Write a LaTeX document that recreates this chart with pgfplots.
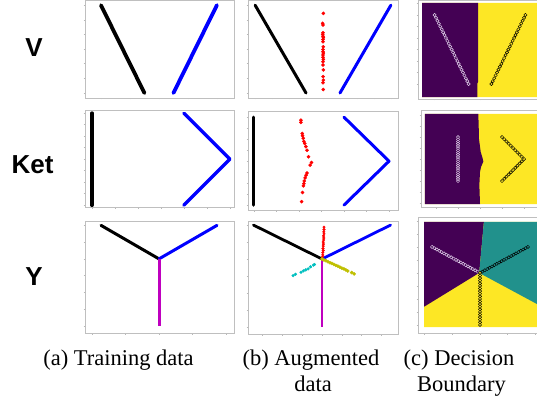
\documentclass[border=0pt]{standalone}
\usepackage{fontspec}
\setmainfont{Liberation Serif}
\newfontfamily\labfont{Liberation Sans}
\usepackage{pgfplots}
\usepackage{pgfplotstable}
\pgfplotsset{compat=1.18}
\definecolor{vpurple}{HTML}{440154}
\definecolor{vteal}{HTML}{21918C}
\definecolor{vyellow}{HTML}{FDE725}
\definecolor{mmag}{rgb}{0.75,0,0.75}
\definecolor{mcyan}{rgb}{0,0.75,0.75}
\definecolor{molive}{rgb}{0.75,0.75,0}
\definecolor{framegray}{HTML}{BFBFBF}
\definecolor{lav}{HTML}{E4D6EE}

\pgfplotstableread{
x y
-2 3
-1.9375 2.875
-1.875 2.75
-1.8125 2.625
-1.75 2.5
-1.6875 2.375
-1.625 2.25
-1.5625 2.125
-1.5 2.0
-1.4375 1.875
-1.375 1.75
-1.3125 1.625
-1.25 1.5
-1.1875 1.375
-1.125 1.25
-1.0625 1.125
-1.0 1.0
-0.9375 0.875
-0.875 0.75
-0.8125 0.625
-0.75 0.5
-0.6875 0.375
-0.625 0.25
-0.5625 0.125
-0.5 0
}\Vzero
\pgfplotstableread{
x y
0.5 0
0.5625 0.125
0.625 0.25
0.6875 0.375
0.75 0.5
0.8125 0.625
0.875 0.75
0.9375 0.875
1.0 1.0
1.0625 1.125
1.125 1.25
1.1875 1.375
1.25 1.5
1.3125 1.625
1.375 1.75
1.4375 1.875
1.5 2.0
1.5625 2.125
1.625 2.25
1.6875 2.375
1.75 2.5
1.8125 2.625
1.875 2.75
1.9375 2.875
2.0 3.0
}\Vone
\pgfplotstableread{
x y
0.01 2.72
-0.01 2.38
0.0 2.32
0.0 2.06
-0.01 2.0
0.0 1.94
0.01 1.89
0.0 1.83
0.0 1.75
0.01 1.58
0.0 1.49
0.0 1.41
0.01 1.36
0.0 1.30
0.0 1.22
0.01 1.15
0.0 1.07
0.0 0.96
0.01 0.79
0.0 0.56
0.01 0.44
0.0 0.35
0.01 0.12
}\Vaug
\pgfplotstableread{
x y
-1 -1
-1 -0.9
-1 -0.8
-1 -0.7
-1 -0.6
-1 -0.5
-1 -0.4
-1 -0.3
-1 -0.2
-1 -0.1
-1 0
-1 0.1
-1 0.2
-1 0.3
-1 0.4
-1 0.5
-1 0.6
-1 0.7
-1 0.8
-1 0.9
-1 1
}\Kzero
\pgfplotstableread{
x y
1 1
1.1 0.9
1.2 0.8
1.3 0.7
1.4 0.6
1.5 0.5
1.6 0.4
1.7 0.3
1.8 0.2
1.9 0.1
2 0
1.9 -0.1
1.8 -0.2
1.7 -0.3
1.6 -0.4
1.5 -0.5
1.4 -0.6
1.3 -0.7
1.2 -0.8
1.1 -0.9
1 -1
}\Kone
\pgfplotstableread{
x y
0.044 0.93
0.044 0.88
0.074 0.63
0.08 0.58
0.096 0.52
0.11 0.45
0.13 0.40
0.156 0.33
0.18 0.25
0.215 0.10
0.28 -0.03
0.25 -0.09
0.18 -0.27
0.16 -0.32
0.14 -0.38
0.12 -0.45
0.11 -0.51
0.10 -0.56
0.08 -0.71
0.06 -0.92
}\Kaug
\pgfplotstableread{
x y
-1.732 1
-1.645 0.95
-1.559 0.9
-1.472 0.85
-1.386 0.8
-1.299 0.75
-1.212 0.7
-1.126 0.65
-1.039 0.6
-0.953 0.55
-0.866 0.5
-0.779 0.45
-0.693 0.4
-0.606 0.35
-0.520 0.3
-0.433 0.25
-0.346 0.2
-0.260 0.15
-0.173 0.1
-0.087 0.05
0 0
}\Yzero
\pgfplotstableread{
x y
0 0
0.087 0.05
0.173 0.1
0.260 0.15
0.346 0.2
0.433 0.25
0.520 0.3
0.606 0.35
0.693 0.4
0.779 0.45
0.866 0.5
0.953 0.55
1.039 0.6
1.126 0.65
1.212 0.7
1.299 0.75
1.386 0.8
1.472 0.85
1.559 0.9
1.645 0.95
1.732 1
}\Yone
\pgfplotstableread{
x y
0 0
0 -0.1
0 -0.2
0 -0.3
0 -0.4
0 -0.5
0 -0.6
0 -0.7
0 -0.8
0 -0.9
0 -1.0
0 -1.1
0 -1.2
0 -1.3
0 -1.4
0 -1.5
0 -1.6
0 -1.7
0 -1.8
0 -1.9
0 -2.0
}\Ytwo
\pgfplotstableread{
x y
0.0 0.0
0.01 0.06
0.02 0.12
0.02 0.19
0.03 0.25
0.025 0.31
0.03 0.38
0.035 0.44
0.03 0.5
0.04 0.56
0.045 0.62
0.04 0.68
0.05 0.74
0.045 0.8
0.05 0.87
0.05 0.94
}\Yred
\pgfplotstableread{
x y
-0.73 -0.49
-0.67 -0.45
-0.53 -0.39
-0.47 -0.35
-0.41 -0.32
-0.35 -0.29
-0.29 -0.23
-0.22 -0.18
-0.19 -0.16
}\Ycyan
\pgfplotstableread{
x y
0 0
0.05 -0.03
0.1 -0.05
0.15 -0.08
0.2 -0.11
0.25 -0.13
0.3 -0.16
0.35 -0.19
0.4 -0.21
0.45 -0.24
0.5 -0.27
0.55 -0.29
0.6 -0.32
0.65 -0.35
0.75 -0.40
0.81 -0.44
}\Yolive

\pgfplotsset{
  panel/.style={scale only axis, anchor=south west,
    axis line style={draw=framegray, line width=0.8bp},
    tick style={draw=black!28, line width=0.5bp},
    major tick length=1.5bp, tick align=outside,
    xticklabels={}, yticklabels={},
    xtick pos=left, ytick pos=left, clip=true},
  dpanel/.style={panel, axis on top},
  trainA/.style={mark=none, line width=3.8bp, line cap=round, line join=round},
  trainB/.style={mark=none, line width=3bp, line cap=round, line join=round},
  aug/.style={only marks, mark=*, mark size=1.6bp},
  c0/.style={only marks, mark=*, mark size=1.6bp, mark options={fill=vpurple, draw=lav, line width=0.45bp}},
  c1/.style={only marks, mark=*, mark size=1.6bp, mark options={fill=#1, draw=black, line width=0.45bp}},
}

\begin{document}
\begin{tikzpicture}[x=1bp,y=1bp]
\path[use as bounding box] (0,0) rectangle (537,400);

% ---------- Row labels ----------
\node[font={\labfont\bfseries\fontsize{26bp}{28bp}\selectfont}] at (34,352) {V};
\node[font={\labfont\bfseries\fontsize{26bp}{28bp}\selectfont}] at (32.5,235) {Ket};
\node[font={\labfont\bfseries\fontsize{26bp}{28bp}\selectfont}] at (34,123) {Y};

% ---------- Row V ----------
\begin{axis}[panel, at={(85bp,302bp)}, width=149bp, height=97.5bp,
  xmin=-2.55, xmax=2.59, ymin=-0.17, ymax=3.16,
  xtick={-2,-1,0,1,2}, ytick={0,0.5,1,1.5,2,2.5,3}]
\addplot[black, trainA] table {\Vzero};
\addplot[blue, trainA] table {\Vone};
\end{axis}
\begin{axis}[panel, at={(248bp,302bp)}, width=150bp, height=97.5bp,
  xmin=-2.21, xmax=2.21, ymin=-0.17, ymax=3.16,
  xtick={-2,-1.5,-1,-0.5,0,0.5,1,1.5,2}, ytick={0,0.5,1,1.5,2,2.5,3}]
\addplot[black, trainB] table {\Vzero};
\addplot[blue, trainB] table {\Vone};
\addplot[red, aug] table {\Vaug};
\end{axis}
\begin{axis}[dpanel, at={(418bp,301bp)}, width=124bp, height=99bp,
  xmin=-2.73, xmax=2.73, ymin=-0.65, ymax=3.65,
  xtick={-2,-1,0,1,2}, ytick={0,0.5,1,1.5,2,2.5,3,3.5}]
\addplot[fill=vyellow, draw=none] coordinates {(-2.55,-0.57) (2.6,-0.57) (2.6,3.52) (-2.55,3.52) (-2.55,-0.57)};
\addplot[fill=vpurple, draw=none] coordinates {(-2.55,-0.57) (-0.12,-0.57) (-0.12,0.02) (-0.08,0.1) (-0.08,3.52) (-2.55,3.52) (-2.55,-0.57)};
\addplot[c0] table {\Vzero};
\addplot[c1=vyellow] table {\Vone};
\end{axis}

% ---------- Row Ket ----------
\begin{axis}[panel, at={(85bp,193bp)}, width=149bp, height=97bp,
  xmin=-1.15, xmax=2.09, ymin=-1.04, ymax=1.07,
  xtick={-1,-0.5,0,0.5,1,1.5,2}, ytick={-1,-0.75,-0.5,-0.25,0,0.25,0.5,0.75,1}]
\addplot[black, trainA] table {\Kzero};
\addplot[blue, trainA, line width=3.4bp] table {\Kone};
\end{axis}
\begin{axis}[panel, at={(248bp,190bp)}, width=150bp, height=99bp,
  xmin=-1.13, xmax=2.2, ymin=-1.11, ymax=1.14,
  xtick={-1,-0.5,0,0.5,1,1.5,2}, ytick={-1,-0.75,-0.5,-0.25,0,0.25,0.5,0.75,1}]
\addplot[black, trainB, line width=3.2bp] table {\Kzero};
\addplot[blue, trainB] table {\Kone};
\addplot[red, aug] table {\Kaug};
\end{axis}
\begin{axis}[dpanel, at={(421bp,193bp)}, width=118bp, height=97bp,
  xmin=-2.68, xmax=2.68, ymin=-2.18, ymax=2.23,
  xtick={-2,-1,0,1,2}, ytick={-2,-1.5,-1,-0.5,0,0.5,1,1.5,2}]
\addplot[fill=vyellow, draw=none] coordinates {(-2.5,-2.05) (2.6,-2.05) (2.6,2.05) (-2.5,2.05) (-2.5,-2.05)};
\addplot[fill=vpurple, draw=none] coordinates {(-2.5,2.05) (-0.08,2.05) (-0.06,1.55) (-0.05,0.94) (0.03,0.33) (0.12,0.03) (0.15,-0.12) (0.05,-0.35) (0.0,-0.58) (-0.03,-1.18) (0.0,-2.05) (-2.5,-2.05) (-2.5,2.05)};
\addplot[c0] table {\Kzero};
\addplot[c1=vyellow] table {\Kone};
\end{axis}

% ---------- Row Y ----------
\begin{axis}[panel, at={(85bp,67bp)}, width=149bp, height=112bp,
  xmin=-2.21, xmax=2.24, ymin=-2.21, ymax=1.13,
  xtick={-2,-1,0,1,2}, ytick={-2,-1.5,-1,-0.5,0,0.5,1}]
\addplot[black, trainA, line width=3bp] table {\Yzero};
\addplot[blue, trainA, line width=3bp] table {\Yone};
\addplot[mmag, trainA, line width=3bp, line cap=butt] table {\Ytwo};
\end{axis}
\begin{axis}[panel, at={(248bp,66bp)}, width=150bp, height=113bp,
  xmin=-1.87, xmax=1.92, ymin=-2.21, ymax=1.12,
  xtick={-1.5,-1,-0.5,0,0.5,1,1.5}, ytick={-2,-1.5,-1,-0.5,0,0.5,1}]
\addplot[black, trainB, line width=2.8bp] table {\Yzero};
\addplot[blue, trainB, line width=2.8bp] table {\Yone};
\addplot[mmag, trainB, line width=2.8bp, line cap=butt] table {\Ytwo};
\addplot[red, aug, mark size=1.3bp] table {\Yred};
\addplot[mcyan, aug, mark size=1.4bp] table {\Ycyan};
\addplot[molive, aug, mark size=1.6bp] table {\Yolive};
\end{axis}
\begin{axis}[dpanel, at={(418bp,67bp)}, width=124bp, height=116bp,
  xmin=-2.24, xmax=2.24, ymin=-2.31, ymax=2.15,
  xtick={-2,-1,0,1,2}, ytick={-2,-1.5,-1,-0.5,0,0.5,1,1.5,2}]
\addplot[fill=vyellow, draw=none] coordinates {(-2.02,-2.08) (2.1,-2.08) (2.1,1.96) (-2.02,1.96) (-2.02,-2.08)};
\addplot[fill=vpurple, draw=none] coordinates {(-2.02,1.96) (0.14,1.96) (-0.03,0) (-2.02,-1.30) (-2.02,1.96)};
\addplot[fill=vteal, draw=none] coordinates {(0.14,1.96) (2.1,1.96) (2.1,-1.22) (-0.03,0) (0.14,1.96)};
\addplot[c0] table {\Yzero};
\addplot[c1=vteal] table {\Yone};
\addplot[c1=vyellow] table {\Ytwo};
\end{axis}

% ---------- Captions ----------
\begin{scope}[every node/.style={anchor=base, inner sep=0pt, font=\fontsize{22.5bp}{25bp}\selectfont}]
\node at (118.5,34.3) {(a) Training data};
\node at (311,34.3) {(b) Augmented};
\node at (313,9) {data};
\node at (459,34.3) {(c) Decision};
\node at (461.5,9) {Boundary};
\end{scope}
\end{tikzpicture}
\end{document}
